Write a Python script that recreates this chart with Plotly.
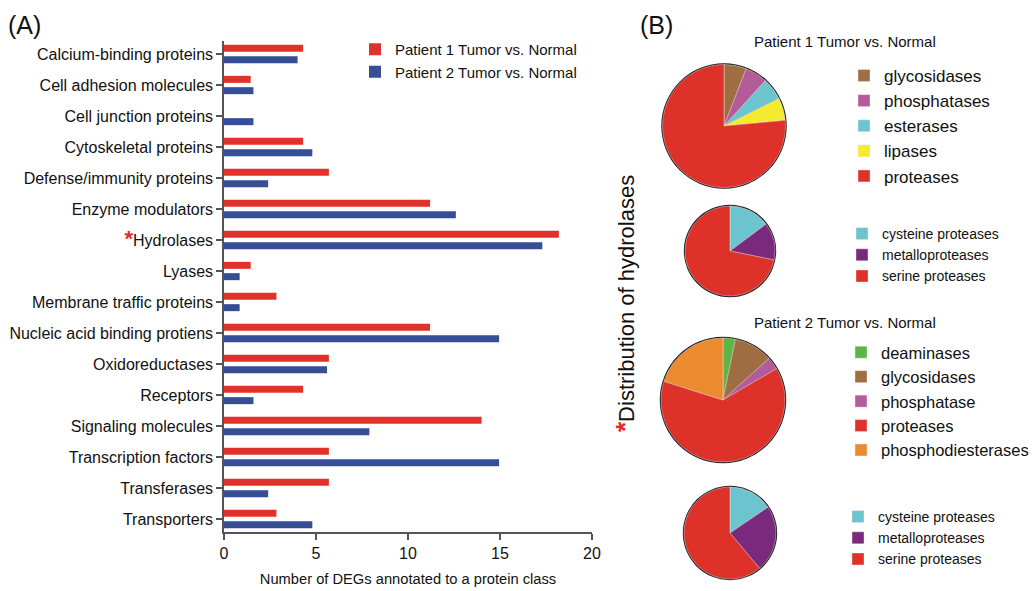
import plotly.graph_objects as go

W, H = 1032, 591

categories = ["Calcium-binding proteins", "Cell adhesion molecules", "Cell junction proteins",
              "Cytoskeletal proteins", "Defense/immunity proteins", "Enzyme modulators",
              "Hydrolases", "Lyases", "Membrane traffic proteins", "Nucleic acid binding protiens",
              "Oxidoreductases", "Receptors", "Signaling molecules", "Transcription factors",
              "Transferases", "Transporters"]
patient1 = [4.3, 1.45, 0, 4.3, 5.7, 11.2, 18.2, 1.45, 2.85, 11.2, 5.7, 4.3, 14.0, 5.7, 5.7, 2.85]
patient2 = [4.0, 1.6, 1.6, 4.8, 2.4, 12.6, 17.3, 0.85, 0.85, 14.95, 5.6, 1.6, 7.9, 14.95, 2.4, 4.8]
tick_labels = [('<span style="color:#e8262b;font-size:22px"><b>*</b></span>' + c) if c == "Hydrolases" else c
               for c in categories]
x_ticks = [0, 5, 10, 15, 20]

p1_hyd_labels = ["glycosidases", "phosphatases", "esterases", "lipases", "proteases"]
p1_hyd_values = [1, 1, 1, 1, 13]
p1_hyd_colors = ["#9E6E42", "#B45B9B", "#6CC4CE", "#F4EB30", "#DD3129"]

p1_prot_labels = ["cysteine proteases", "metalloproteases", "serine proteases"]
p1_prot_values = [14.8, 13.4, 71.8]
prot_colors = ["#6CC4CE", "#7A2A7C", "#DD3129"]

p2_hyd_labels = ["deaminases", "glycosidases ", "phosphatase", "proteases ", "phosphodiesterases"]
p2_hyd_values = [3.2, 10.1, 3.3, 63.3, 20.1]
p2_hyd_colors = ["#5DB545", "#9E6E42", "#B45B9B", "#DD3129", "#EC8A2F"]

p2_prot_labels = ["cysteine proteases ", "metalloproteases ", "serine proteases "]
p2_prot_values = [15.5, 23.4, 61.1]

FONT = "Liberation Sans, Arial, Helvetica, sans-serif"
RED, BLUE = "#E0322B", "#354E96"

fig = go.Figure()
fig.add_trace(go.Bar(y=categories, x=patient1, orientation="h", name="Patient 1 Tumor vs. Normal",
                     marker=dict(color=RED, line=dict(width=0))))
fig.add_trace(go.Bar(y=categories, x=patient2, orientation="h", name="Patient 2 Tumor vs. Normal",
                     marker=dict(color=BLUE, line=dict(width=0))))


def dom(cx, cy, r):
    return dict(x=[(cx - r) / W, (cx + r) / W], y=[1 - (cy + r) / H, 1 - (cy - r) / H])


pies = [
    (p1_hyd_labels, p1_hyd_values, p1_hyd_colors, (724, 126, 61.5), "legend2"),
    (p1_prot_labels, p1_prot_values, prot_colors, (730, 251, 45), "legend3"),
    (p2_hyd_labels, p2_hyd_values, p2_hyd_colors, (723, 400, 62), "legend4"),
    (p2_prot_labels, p2_prot_values, prot_colors, (730, 533, 46), "legend5"),
]
for labels, values, colors, (cx, cy, r), lg in pies:
    # dark rim under the pie
    fig.add_trace(go.Pie(values=[1], labels=[" "], domain=dom(cx, cy, r + 1.2), sort=False,
                         marker=dict(colors=["#1a1a1a"]), textinfo="none", hoverinfo="skip",
                         showlegend=False))
    fig.add_trace(go.Pie(labels=labels, values=values, domain=dom(cx, cy, r), sort=False,
                         direction="clockwise", rotation=0, textinfo="none",
                         marker=dict(colors=colors, line=dict(color="rgba(255,235,235,0.7)", width=0.6)),
                         legend=lg))

leg_common = dict(bgcolor="rgba(0,0,0,0)", xanchor="left", yanchor="top")

fig.update_layout(
    width=W, height=H, margin=dict(l=0, r=0, t=0, b=0, autoexpand=False),
    paper_bgcolor="white", plot_bgcolor="white",
    font=dict(family=FONT, color="#111"),
    barmode="group", bargap=0.27, bargroupgap=0.38,
    xaxis=dict(domain=[224 / W, 592 / W], range=[0, 20], tickvals=x_ticks, ticks="outside", ticklen=6,
               tickwidth=1.5, tickcolor="#555", showline=True, linecolor="#555", linewidth=1.5,
               showgrid=False, zeroline=False, tickfont=dict(size=16, family=FONT),
               title=dict(text="Number of DEGs annotated to a protein class", font=dict(size=14.7, family=FONT),
                          standoff=13)),
    yaxis=dict(domain=[1 - 532 / H, 1 - 41 / H], type="category", categoryorder="array",
               categoryarray=categories, tickvals=categories, ticktext=tick_labels,
               range=[15.42, -0.42], ticks="outside", ticklen=6, tickwidth=1.5, tickcolor="#555",
               showline=True, linecolor="#555", linewidth=1.5, showgrid=False, zeroline=False,
               tickfont=dict(size=16, family=FONT)),
    legend=dict(x=355 / W, y=1 - 33 / H, font=dict(size=15, family=FONT), **leg_common),
    legend2=dict(x=844 / W, y=1 - 58 / H, font=dict(size=17, family=FONT), **leg_common),
    legend3=dict(x=842 / W, y=1 - 218 / H, font=dict(size=14, family=FONT), **leg_common),
    legend4=dict(x=841 / W, y=1 - 335 / H, font=dict(size=16.5, family=FONT), **leg_common),
    legend5=dict(x=838 / W, y=1 - 501 / H, font=dict(size=14, family=FONT), **leg_common),
    annotations=[
        dict(text="(A)", x=6 / W, y=1 - 25 / H, xref="paper", yref="paper", xanchor="left", yanchor="middle",
             showarrow=False, font=dict(size=25, family=FONT)),
        dict(text="(B)", x=638 / W, y=1 - 25 / H, xref="paper", yref="paper", xanchor="left", yanchor="middle",
             showarrow=False, font=dict(size=25, family=FONT)),
        dict(text="Patient 1 Tumor vs. Normal", x=845 / W, y=1 - 42 / H, xref="paper", yref="paper",
             xanchor="center", yanchor="middle", showarrow=False, font=dict(size=15, family=FONT)),
        dict(text="Patient 2 Tumor vs. Normal", x=845 / W, y=1 - 322 / H, xref="paper", yref="paper",
             xanchor="center", yanchor="middle", showarrow=False, font=dict(size=15, family=FONT)),
        dict(text='<span style="color:#e8262b;font-size:26px"><b>*</b></span>Distribution of hydrolases',
             x=625 / W, y=1 - 304 / H, xref="paper", yref="paper", textangle=-90, showarrow=False,
             font=dict(size=22, family=FONT)),
    ],
)

fig.write_html("out.html", config={"displayModeBar": False},
               post_script="document.body.style.margin='0px';")
